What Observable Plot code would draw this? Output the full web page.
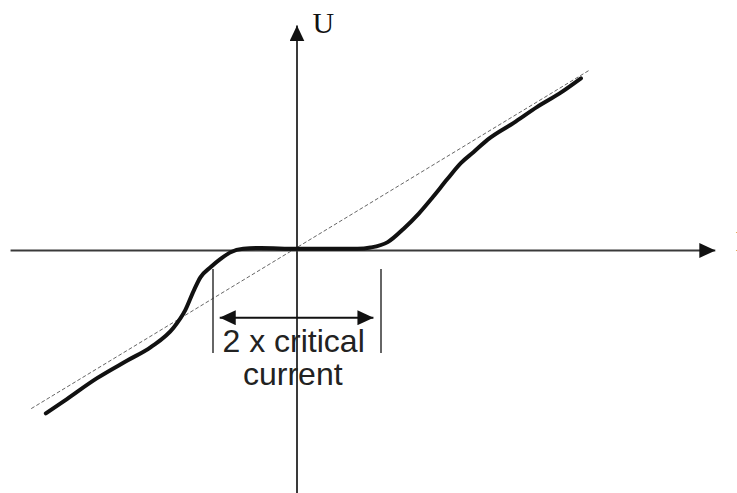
<!DOCTYPE html>
<html>
<head>
<meta charset="utf-8">
<script src="https://cdn.jsdelivr.net/npm/d3@7"></script>
<script src="https://cdn.jsdelivr.net/npm/@observablehq/plot@0.6"></script>
<style>
  html, body { margin: 0; padding: 0; background: #fff; overflow: hidden; }
  svg { overflow: hidden; display: block; }
</style>
</head>
<body>
<script>
// Current I in units of the critical current, voltage U in arbitrary units
const curveI = [-2.99, -2.77, -2.38, -2.02, -1.74, -1.47, -1.33, -1.23, -1.15, -1.03, -0.91, -0.79, -0.64, -0.43, 0, 0.72, 0.875, 1.08, 1.27, 1.45, 1.62, 1.79, 1.95, 2.10, 2.27, 2.58, 2.86, 3.14, 3.38];
const curveU = [-1.94, -1.79, -1.52, -1.31, -1.15, -0.92, -0.71, -0.48, -0.32, -0.20, -0.10, -0.02, 0.02, 0.03, 0.02, 0.02, 0.035, 0.10, 0.26, 0.44, 0.64, 0.85, 1.04, 1.17, 1.32, 1.52, 1.71, 1.88, 2.05];
// ohmic (normal-state) asymptote
const ohmicI = [-3.16, 3.47];
const ohmicU = [-1.88, 2.14];
// critical current markers
const criticalI = [-1, 1];
const markerU = [-0.226, -1.226];
const spanI = [-0.92, 0.91];
const spanU = -0.80;
// axes extents
const axisIRange = [-3.41, 4.98];
const axisURange = [-2.95, 2.68];
// labels
const labels = ["2 x critical", "current"];
const labelI = [-0.04, -0.05];
const labelU = [-1.214, -1.607];
const axisLabels = ["U", "I"];
const axisLabelI = [0.185, 5.22];
const axisLabelU = [2.595, 0.0];

const curve = curveI.map((I, k) => ({I, U: curveU[k]}));
const ohmic = ohmicI.map((I, k) => ({I, U: ohmicU[k]}));

const unit = 84;
const chart = Plot.plot({
  width: 737,
  height: 493,
  margin: 0,
  x: {domain: [-296.5 / unit, 440.5 / unit], axis: null},
  y: {domain: [-243 / unit, 250 / unit], axis: null},
  marks: [
    Plot.link([0], {x1: axisIRange[0], x2: axisIRange[1], y1: 0, y2: 0, stroke: "#3a3a3a", strokeWidth: 2}),
    Plot.link([0], {x1: 0, x2: 0, y1: axisURange[0], y2: axisURange[1], stroke: "#3a3a3a", strokeWidth: 2}),
    Plot.line(ohmic, {x: "I", y: "U", stroke: "#666", strokeWidth: 1, strokeDasharray: "3,3"}),
    Plot.ruleX(criticalI, {y1: markerU[0], y2: markerU[1], stroke: "#333", strokeWidth: 1.5}),
    Plot.link([0], {x1: spanI[0], x2: spanI[1], y1: spanU, y2: spanU, stroke: "#111", strokeWidth: 2}),
    Plot.line(curve, {x: "I", y: "U", stroke: "#111", strokeWidth: 4, curve: "monotone-x"}),
    Plot.text(labels, {x: (d, k) => labelI[k], y: (d, k) => labelU[k], text: d => d, fontFamily: "Liberation Sans, Arial, sans-serif", fontSize: 32, fill: "#222", textAnchor: "middle", lineAnchor: "bottom"}),
    Plot.text(axisLabels, {x: (d, k) => axisLabelI[k], y: (d, k) => axisLabelU[k], text: d => d, fontFamily: "Liberation Serif, Times New Roman, serif", fontSize: 30, fill: "#111", textAnchor: "start", lineAnchor: "bottom"})
  ]
});

// filled arrowheads
const svg = d3.select(chart);
const defs = svg.insert("defs", ":first-child");
const mk = defs.append("marker")
  .attr("id", "ahead")
  .attr("viewBox", "0 0 16 15")
  .attr("markerWidth", 16)
  .attr("markerHeight", 15)
  .attr("refX", 16)
  .attr("refY", 7.5)
  .attr("orient", "auto-start-reverse")
  .attr("markerUnits", "userSpaceOnUse");
mk.append("path").attr("d", "M0,0L16,7.5L0,15Z").attr("fill", "#111").attr("stroke", "none");
const linkPaths = svg.selectAll('g[aria-label="link"] path').nodes();
linkPaths.forEach((p, k) => {
  p.setAttribute("marker-end", "url(#ahead)");
  if (k === 2) p.setAttribute("marker-start", "url(#ahead)");
});

document.body.appendChild(chart);
</script>
</body>
</html>
